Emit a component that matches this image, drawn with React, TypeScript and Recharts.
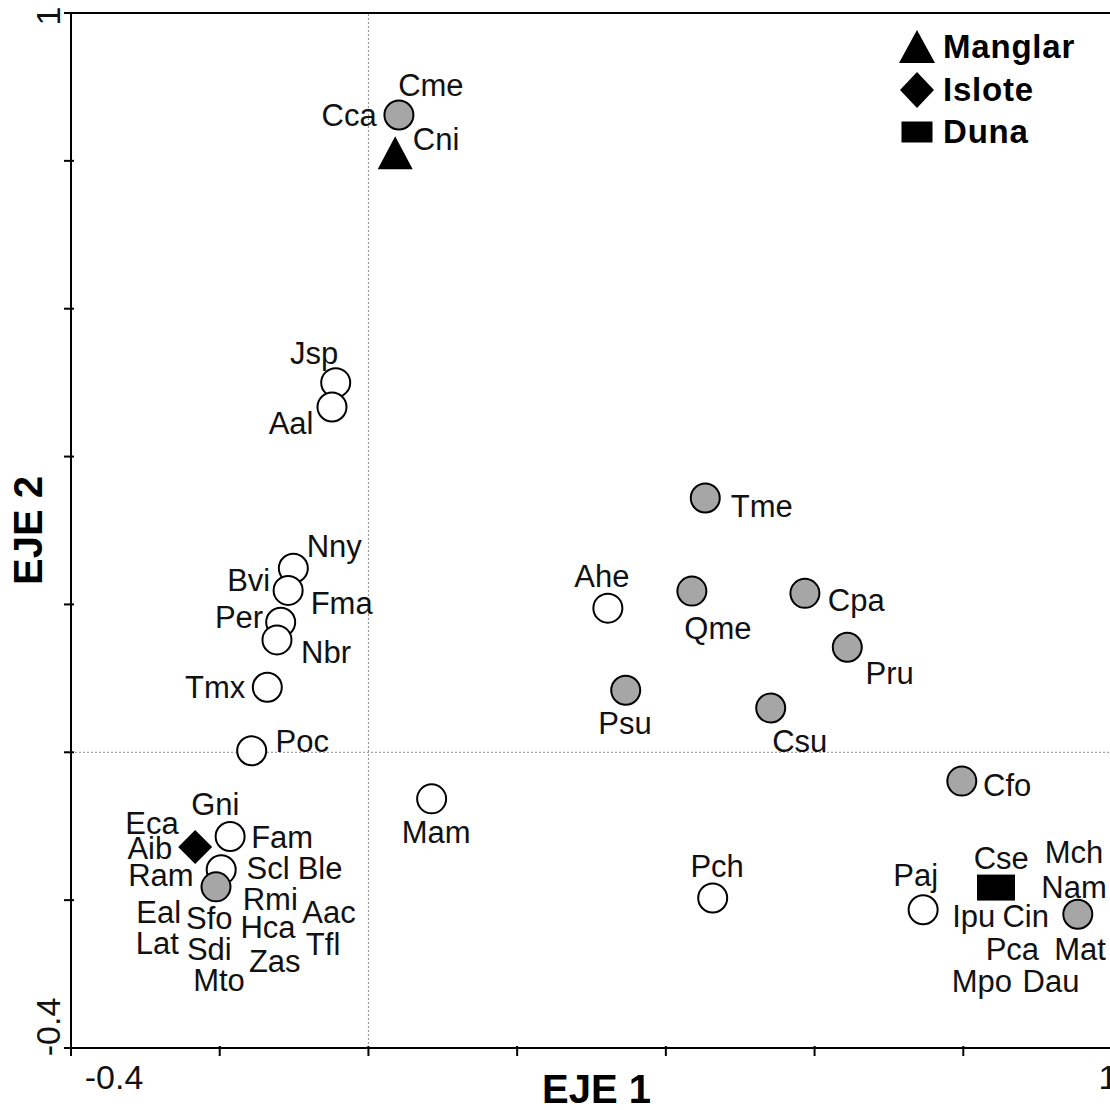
import { ScatterChart, Scatter, XAxis, YAxis, ReferenceLine, Legend, Label } from "recharts";

const FONT = '"Liberation Sans", Arial, Helvetica, sans-serif';

const X_TICKS = [-0.4, -0.2, 0, 0.2, 0.4, 0.6, 0.8, 1];
const Y_TICKS = [-0.4, -0.2, 0, 0.2, 0.4, 0.6, 0.8, 1];

// white circles
const openSpecies = [
  { x: -0.044, y: 0.5 }, // Jsp
  { x: -0.049, y: 0.467 }, // Aal
  { x: -0.101, y: 0.249 }, // Nny
  { x: -0.108, y: 0.219 }, // Bvi / Fma
  { x: -0.118, y: 0.176 }, // Per
  { x: -0.123, y: 0.152 }, // Nbr
  { x: -0.136, y: 0.088 }, // Tmx
  { x: -0.157, y: 0.002 }, // Poc
  { x: 0.322, y: 0.195 }, // Ahe
  { x: 0.085, y: -0.063 }, // Mam
  { x: 0.463, y: -0.197 }, // Pch
  { x: 0.746, y: -0.213 }, // Paj
  { x: -0.186, y: -0.114 }, // Gni / Fam
  { x: -0.198, y: -0.159 }, // Scl
];

// grey circles
const greySpecies = [
  { x: 0.041, y: 0.862 }, // Cme / Cca / Cni
  { x: 0.453, y: 0.344 }, // Tme
  { x: 0.435, y: 0.218 }, // Qme
  { x: 0.587, y: 0.215 }, // Cpa
  { x: 0.644, y: 0.142 }, // Pru
  { x: 0.346, y: 0.084 }, // Psu
  { x: 0.541, y: 0.06 }, // Csu
  { x: 0.798, y: -0.039 }, // Cfo
  { x: 0.954, y: -0.219 }, // Mch group
  { x: -0.205, y: -0.182 }, // Ram group
];

const manglar = [{ x: 0.036, y: 0.809 }];
const islote = [{ x: -0.233, y: -0.128 }];
const duna = [{ x: 0.844, y: -0.183 }];

const LEGEND_ORDER = ["Manglar", "Islote", "Duna"];

const speciesLabels = [
  { name: "Cme", x: 0.084, y: 0.903 },
  { name: "Cca", x: -0.026, y: 0.862 },
  { name: "Cni", x: 0.091, y: 0.83 },
  { name: "Jsp", x: -0.073, y: 0.54 },
  { name: "Aal", x: -0.104, y: 0.445 },
  { name: "Nny", x: -0.046, y: 0.279 },
  { name: "Bvi", x: -0.161, y: 0.233 },
  { name: "Fma", x: -0.036, y: 0.202 },
  { name: "Per", x: -0.174, y: 0.183 },
  { name: "Nbr", x: -0.057, y: 0.136 },
  { name: "Tmx", x: -0.206, y: 0.088 },
  { name: "Poc", x: -0.089, y: 0.015 },
  { name: "Tme", x: 0.529, y: 0.333 },
  { name: "Ahe", x: 0.314, y: 0.238 },
  { name: "Qme", x: 0.47, y: 0.168 },
  { name: "Cpa", x: 0.656, y: 0.206 },
  { name: "Pru", x: 0.701, y: 0.107 },
  { name: "Psu", x: 0.345, y: 0.04 },
  { name: "Csu", x: 0.58, y: 0.015 },
  { name: "Cfo", x: 0.859, y: -0.044 },
  { name: "Mam", x: 0.091, y: -0.108 },
  { name: "Pch", x: 0.469, y: -0.153 },
  { name: "Paj", x: 0.736, y: -0.166 },
  { name: "Cse", x: 0.851, y: -0.143 },
  { name: "Mch", x: 0.949, y: -0.135 },
  { name: "Nam", x: 0.949, y: -0.182 },
  { name: "Ipu", x: 0.814, y: -0.221 },
  { name: "Cin", x: 0.884, y: -0.221 },
  { name: "Pca", x: 0.866, y: -0.266 },
  { name: "Mat", x: 0.957, y: -0.266 },
  { name: "Mpo", x: 0.825, y: -0.309 },
  { name: "Dau", x: 0.918, y: -0.309 },
  { name: "Eca", x: -0.291, y: -0.095 },
  { name: "Gni", x: -0.206, y: -0.07 },
  { name: "Fam", x: -0.116, y: -0.114 },
  { name: "Aib", x: -0.294, y: -0.129 },
  { name: "Scl", x: -0.135, y: -0.156 },
  { name: "Ble", x: -0.065, y: -0.156 },
  { name: "Ram", x: -0.279, y: -0.166 },
  { name: "Rmi", x: -0.132, y: -0.198 },
  { name: "Aac", x: -0.053, y: -0.216 },
  { name: "Eal", x: -0.282, y: -0.216 },
  { name: "Sfo", x: -0.214, y: -0.224 },
  { name: "Hca", x: -0.135, y: -0.236 },
  { name: "Lat", x: -0.284, y: -0.258 },
  { name: "Sdi", x: -0.214, y: -0.266 },
  { name: "Tfl", x: -0.061, y: -0.259 },
  { name: "Zas", x: -0.126, y: -0.282 },
  { name: "Mto", x: -0.201, y: -0.308 },
];

const GREY = "#a6a6a6";

const openDot = (p: any) => (
  <circle cx={p.cx} cy={p.cy} r={14.5} fill="#fff" stroke="#000" strokeWidth={2} />
);
const greyDot = (p: any) => (
  <circle cx={p.cx} cy={p.cy} r={14.5} fill={GREY} stroke="#000" strokeWidth={2} />
);
const triangle = (p: any) => (
  <path d={`M${p.cx},${p.cy - 18}L${p.cx + 17.5},${p.cy + 15}L${p.cx - 17.5},${p.cy + 15}Z`} fill="#000" />
);
const diamond = (p: any) => (
  <path d={`M${p.cx},${p.cy - 17}L${p.cx + 17},${p.cy}L${p.cx},${p.cy + 17}L${p.cx - 17},${p.cy}Z`} fill="#000" />
);
const rect = (p: any) => <rect x={p.cx - 19} y={p.cy - 13} width={38} height={26} fill="#000" />;

const speciesText = (p: any) => (
  <text x={p.cx} y={p.cy} dy="0.36em" textAnchor="middle" fontSize={31} fontFamily={FONT} fill="#111">
    {p.payload?.name ?? p.name}
  </text>
);

function XTick(props: any) {
  const { x, y, payload } = props;
  const v = payload.value;
  let label = null;
  if (v === -0.4) label = { dx: 43, text: "-0.4" };
  if (v === 1) label = { dx: -4, text: "1" };
  return (
    <g>
      <line x1={x} x2={x} y1={y - 4} y2={y + 6} stroke="#000" strokeWidth={2} />
      {label && (
        <text x={x + label.dx} y={y + 27} dy="0.36em" textAnchor="middle" fontSize={34} fontFamily={FONT} fill="#111">
          {label.text}
        </text>
      )}
    </g>
  );
}

function YTick(props: any) {
  const { x, y, payload } = props;
  const v = payload.value;
  let label = null;
  if (v === -0.4) label = { dy: -21, text: "-0.4" };
  if (v === 1) label = { dy: 3, text: "1" };
  const lx = 47.5;
  return (
    <g>
      <line x1={x - 5} x2={x + 5} y1={y} y2={y} stroke="#000" strokeWidth={2} />
      {label && (
        <text
          x={lx}
          y={y + label.dy}
          dy="0.36em"
          textAnchor="middle"
          fontSize={34}
          fontFamily={FONT}
          fill="#111"
          transform={`rotate(-90 ${lx} ${y + label.dy})`}
        >
          {label.text}
        </text>
      )}
    </g>
  );
}

const LEGEND_ICONS: Record<string, (cx: number, cy: number) => any> = {
  Manglar: (cx, cy) => <path d={`M${cx},${cy - 17}L${cx + 18},${cy + 16}L${cx - 18},${cy + 16}Z`} fill="#000" />,
  Islote: (cx, cy) => <path d={`M${cx},${cy - 18}L${cx + 17},${cy}L${cx},${cy + 18}L${cx - 17},${cy}Z`} fill="#000" />,
  Duna: (cx, cy) => <rect x={cx - 15.5} y={cy - 10.5} width={31} height={21} fill="#000" />,
};
const LEGEND_ROWS = [27, 70, 112];

function LegendBox(props: any) {
  const names = (props.payload || []).map((it: any) => it.value);
  const items = LEGEND_ORDER.filter((n) => names.includes(n));
  return (
    <svg width={230} height={135}>
      {items.map((name: string, i: number) => (
        <g key={name}>
          {LEGEND_ICONS[name](37, LEGEND_ROWS[i])}
          <text
            x={63}
            y={LEGEND_ROWS[i] - 1}
            dy="0.36em"
            fontSize={33}
            letterSpacing={0.8}
            fontWeight="bold"
            fontFamily={FONT}
            fill="#000"
          >
            {name}
          </text>
        </g>
      ))}
    </svg>
  );
}

export default function App() {
  return (
    <div style={{ position: "absolute", left: 0, top: 0, width: 1110, height: 1110, overflow: "hidden", background: "#fff" }}>
      <ScatterChart width={1130} height={1110} margin={{ top: 13, right: 18, bottom: 0, left: 0 }}>
        <XAxis
          type="number"
          dataKey="x"
          domain={[-0.4, 1]}
          ticks={X_TICKS}
          interval={0}
          height={62}
          tickSize={0}
          tickLine={false}
          axisLine={{ stroke: "#000", strokeWidth: 2 }}
          tick={<XTick />}
          allowDataOverflow
        >
          <Label
            content={(p: any) => {
              const vb = p.viewBox || { x: 71, y: 1048, width: 1041 };
              return (
                <text x={vb.x + vb.width / 2 + 5} y={vb.y + 41} dy="0.36em" textAnchor="middle" fontSize={40} fontWeight="bold" fontFamily={FONT} fill="#000">
                  EJE 1
                </text>
              );
            }}
          />
        </XAxis>
        <YAxis
          type="number"
          dataKey="y"
          domain={[-0.4, 1]}
          ticks={Y_TICKS}
          interval={0}
          width={71}
          tickSize={0}
          tickLine={false}
          axisLine={{ stroke: "#000", strokeWidth: 2 }}
          tick={<YTick />}
          allowDataOverflow
        >
          <Label
            content={(p: any) => {
              const vb = p.viewBox || { x: 0, y: 13, width: 71, height: 1035 };
              const cy = vb.y + vb.height / 2;
              return (
                <text x={28} y={cy} dy="0.36em" textAnchor="middle" fontSize={40} fontWeight="bold" fontFamily={FONT} fill="#000" transform={`rotate(-90 28 ${cy})`}>
                  EJE 2
                </text>
              );
            }}
          />
        </YAxis>
        <ReferenceLine x={0} stroke="#8c8c8c" strokeWidth={1} strokeDasharray="2 2" />
        <ReferenceLine y={0} stroke="#8c8c8c" strokeWidth={1} strokeDasharray="2 2" />
        <ReferenceLine y={1} stroke="#000" strokeWidth={2} />
        <ReferenceLine x={1} stroke="#000" strokeWidth={2} />
        <Scatter data={openSpecies} shape={openDot} legendType="none" isAnimationActive={false} />
        <Scatter data={greySpecies} shape={greyDot} legendType="none" isAnimationActive={false} />
        <Scatter name="Manglar" data={manglar} shape={triangle} fill="#000" legendType="triangle" isAnimationActive={false} />
        <Scatter name="Islote" data={islote} shape={diamond} fill="#000" legendType="diamond" isAnimationActive={false} />
        <Scatter name="Duna" data={duna} shape={rect} fill="#000" legendType="square" isAnimationActive={false} />
        <Scatter data={speciesLabels} shape={speciesText} legendType="none" isAnimationActive={false} />
        <Legend
          layout="vertical"
          align="center"
          verticalAlign="middle"
          content={<LegendBox />}
          wrapperStyle={{ left: 880, top: 20, width: 230, height: 135 }}
        />
      </ScatterChart>
    </div>
  );
}
